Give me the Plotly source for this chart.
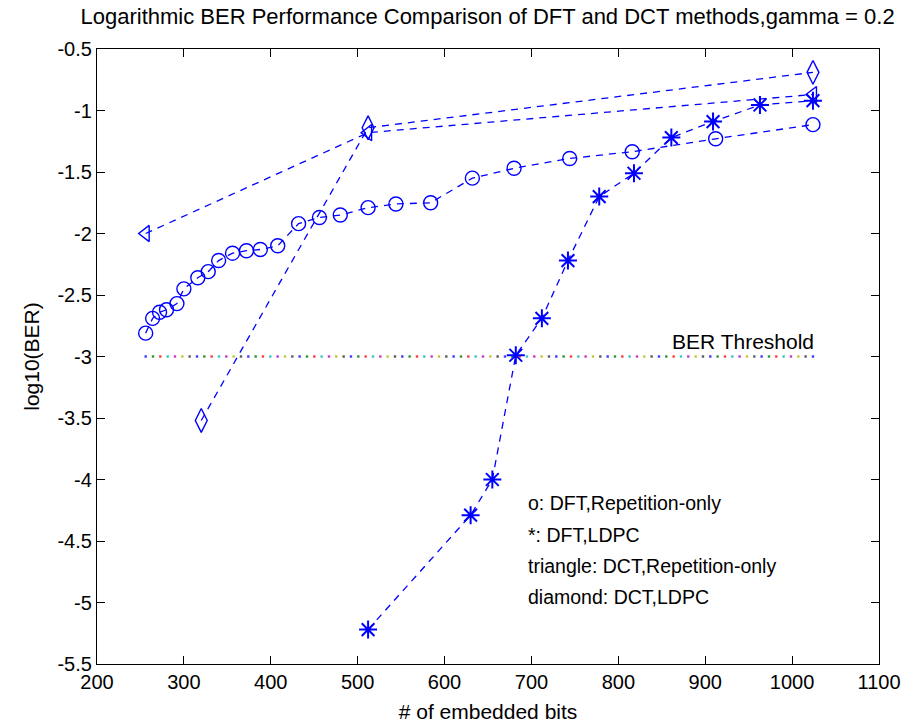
import numpy as np
import plotly.graph_objects as go

# ---- data ----
dft_rep_x = [256, 264, 272, 280, 292, 300, 316, 328, 340, 356, 372, 388, 408,
             432, 456, 480, 512, 544, 584, 632, 680, 744, 816, 912, 1024]
dft_rep_y = [-2.81, -2.69, -2.64, -2.62, -2.57, -2.45, -2.36, -2.31, -2.22, -2.16,
             -2.14, -2.13, -2.10, -1.92, -1.87, -1.85, -1.79, -1.76, -1.75, -1.55,
             -1.47, -1.39, -1.335, -1.23, -1.115]

dft_ldpc_x = [512, 630, 655, 682, 712, 742, 778, 818, 861, 909, 963, 1024]
dft_ldpc_y = [-5.22, -4.29, -4.0, -2.99, -2.69, -2.22, -1.70, -1.51, -1.22, -1.09, -0.955, -0.92]

dct_rep_x = [256, 512, 1024]
dct_rep_y = [-2.0, -1.18, -0.87]

dct_ldpc_x = [320, 512, 1024]
dct_ldpc_y = [-3.52, -1.14, -0.69]

threshold = -3
threshold_start, threshold_end = 256, 1024
threshold_dots = 92

legend_lines = ["o: DFT,Repetition-only", "*: DFT,LDPC",
                "triangle: DCT,Repetition-only", "diamond: DCT,LDPC"]

x_ticks = [200, 300, 400, 500, 600, 700, 800, 900, 1000, 1100]
y_ticks = [-0.5, -1, -1.5, -2, -2.5, -3, -3.5, -4, -4.5, -5, -5.5]

# ---- figure ----
BLUE = "#0000ff"
FONT = "Liberation Sans, Arial, sans-serif"
line_style = dict(color=BLUE, width=1.3, dash="7px,6px")

fig = go.Figure()

# threshold dotted line (multi-coloured dots)
cyc = ["#3a3aff", "#2e962e", "#ff3a3a", "#3ac4c4", "#c43ac4", "#c4c43a", "#5a5a5a"]
tx = np.linspace(threshold_start, threshold_end, threshold_dots)
fig.add_trace(go.Scatter(
    x=tx, y=[threshold] * len(tx), mode="markers",
    marker=dict(symbol="square", size=2.4, color=[cyc[i % 7] for i in range(len(tx))],
                line=dict(width=0)),
    hoverinfo="skip", showlegend=False))

fig.add_trace(go.Scatter(x=dft_rep_x, y=dft_rep_y, mode="lines+markers", line=line_style,
                         marker=dict(symbol="circle-open", size=14, color=BLUE,
                                     line=dict(width=1.4, color=BLUE)),
                         showlegend=False))
fig.add_trace(go.Scatter(x=dft_ldpc_x, y=dft_ldpc_y, mode="lines+markers", line=line_style,
                         marker=dict(symbol="asterisk-open", size=15, color=BLUE,
                                     line=dict(width=2, color=BLUE)),
                         showlegend=False))
fig.add_trace(go.Scatter(x=dct_rep_x, y=dct_rep_y, mode="lines+markers", line=line_style,
                         marker=dict(symbol="triangle-left-open", size=14, color=BLUE,
                                     line=dict(width=1.4, color=BLUE)),
                         showlegend=False))
fig.add_trace(go.Scatter(x=dct_ldpc_x, y=dct_ldpc_y, mode="lines+markers", line=line_style,
                         marker=dict(symbol="diamond-tall-open", size=17, color=BLUE,
                                     line=dict(width=1.4, color=BLUE)),
                         showlegend=False))

annotations = [dict(x=859, y=-2.88, xref="x", yref="y", text="BER Threshold",
                    showarrow=False, xanchor="left", yanchor="middle",
                    font=dict(family=FONT, size=21, color="#000000"))]
legend_y = [-4.19, -4.45, -4.70, -4.955]
for txt, yy in zip(legend_lines, legend_y):
    annotations.append(dict(x=694, y=yy, xref="x", yref="y", text=txt, showarrow=False,
                            xanchor="left", yanchor="middle",
                            font=dict(family=FONT, size=19.5, color="#000000")))

axis_common = dict(showgrid=False, zeroline=False, showline=True, linecolor="#000000",
                   linewidth=1.2, mirror="ticks", ticks="inside", ticklen=8,
                   tickcolor="#000000", tickwidth=1.2, automargin=False,
                   tickfont=dict(family=FONT, size=20, color="#000000"))

fig.update_layout(
    width=920, height=728,
    margin=dict(l=97, r=41, t=49, b=64),
    paper_bgcolor="#ffffff", plot_bgcolor="#ffffff",
    title=dict(text="Logarithmic BER Performance Comparison of DFT and DCT methods,gamma = 0.2",
               x=0.53, xanchor="center", y=1 - 16 / 728, yanchor="middle",
               font=dict(family=FONT, size=22, color="#000000")),
    xaxis=dict(range=[200, 1100], tickvals=x_ticks, ticktext=[str(v) for v in x_ticks],
               title=dict(text="# of embedded bits", standoff=12,
                          font=dict(family=FONT, size=21, color="#000000")),
               **axis_common),
    yaxis=dict(range=[-5.5, -0.5], tickvals=y_ticks, ticktext=[f"{v:g}" for v in y_ticks],
               title=dict(text="log10(BER)", standoff=12,
                          font=dict(family=FONT, size=21, color="#000000")),
               **axis_common),
    annotations=annotations,
)

fig.write_html("out.html")
